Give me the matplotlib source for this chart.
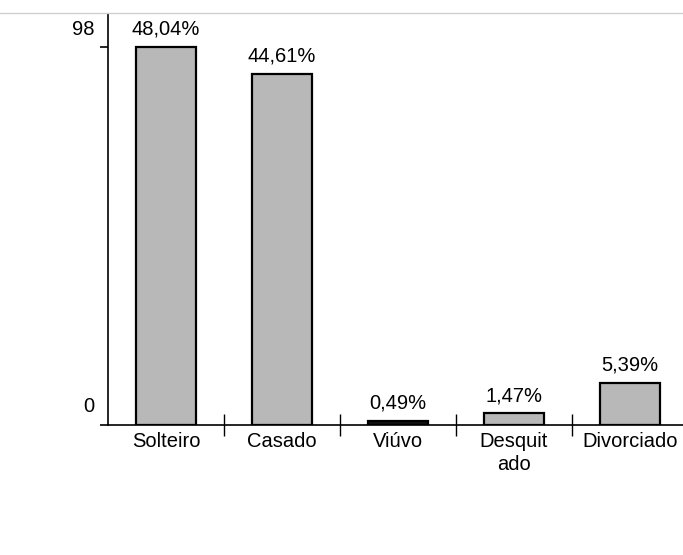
import matplotlib.pyplot as plt
import matplotlib.transforms as mtransforms
from matplotlib.lines import Line2D

# estado civil: contagem e percentual
categorias = ["Solteiro", "Casado", "Viúvo", "Desquit\nado", "Divorciado"]
contagem = [98, 91, 1, 3, 11]
percentuais = ["48,04%", "44,61%", "0,49%", "1,47%", "5,39%"]
cores = ["#b8b8b8", "#b8b8b8", "#111111", "#b8b8b8", "#b8b8b8"]

plt.rcParams['font.family'] = ['Liberation Sans', 'DejaVu Sans']
fs = 14.5

fig = plt.figure(figsize=(6.83, 5.55), dpi=100)
W, H = 683, 555
ax = fig.add_axes([108 / W, (H - 425) / H, 580 / W, (425 - 14) / H])

x = range(len(categorias))
barras = ax.bar(x, contagem, width=0.52, color=cores, edgecolor="black",
                linewidth=1.6)

# rótulos de percentual acima das barras
for b, p in zip(barras, percentuais):
    ax.annotate(p, (b.get_x() + b.get_width() / 2, b.get_height()),
                xytext=(0, 6), textcoords="offset points",
                ha="center", va="bottom", fontsize=fs)

ax.set_xlim(-0.5, 4.5)
ax.set_ylim(0, 106.6)

for s in ["top", "right"]:
    ax.spines[s].set_visible(False)
ax.spines["left"].set_linewidth(1.2)
ax.spines["bottom"].set_linewidth(1.2)

# eixo y: só 0 e 98, rótulos deslocados para cima
ax.set_yticks([0, 98])
ax.set_yticklabels(["0", "98"], fontsize=fs)
ax.tick_params(axis="y", direction="out", length=5.5, width=1.2, pad=4)
desloc = mtransforms.ScaledTranslation(0, 20 / 100, fig.dpi_scale_trans)
for lbl in ax.get_yticklabels():
    lbl.set_transform(lbl.get_transform() + desloc)

# eixo x: marcas entre categorias, nomes centralizados
ax.set_xticks([0.5, 1.5, 2.5, 3.5])
ax.set_xticklabels([])
ax.tick_params(axis="x", which="major", direction="inout", length=16,
               width=1.0)
ax.set_xticks(list(x), minor=True)
ax.set_xticklabels(categorias, minor=True, fontsize=fs, linespacing=1.25)
ax.tick_params(axis="x", which="minor", length=0, pad=5)

# linha fina no topo
fig.add_artist(Line2D([0, 1], [1 - 13 / H, 1 - 13 / H], color="#cfcfcf",
                      linewidth=1))

fig.savefig("out.png", dpi=100)
